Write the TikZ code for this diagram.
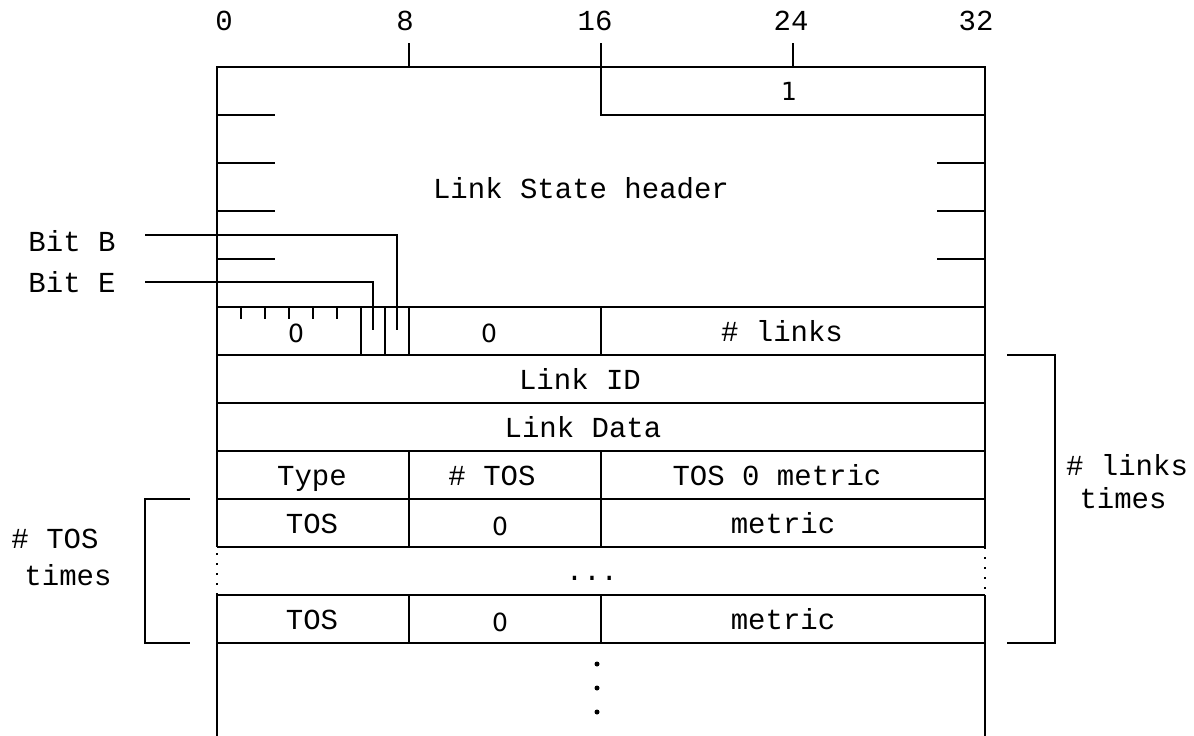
\documentclass[tikz,border=0pt]{standalone}
\usepackage{fontspec}
\setmonofont{Liberation Mono}
\newfontfamily\digitfont{DejaVu Sans}
\begin{document}
\begin{tikzpicture}[x=1pt,y=-1pt,
  ln/.style={line width=1.5pt},
  dl/.style={line width=1.5pt, dash pattern=on 2pt off 8pt},
  lbl/.style={font=\ttfamily\fontsize{29}{34}\selectfont, inner sep=0pt, text height=16pt, text depth=0pt, anchor=center},
  dig/.style={font=\digitfont\fontsize{25}{30}\selectfont, inner sep=0pt, text height=18pt, text depth=0pt, anchor=center},
  dot/.style={circle, fill=black, inner sep=0pt, minimum size=5pt}]
\useasboundingbox (0,0) rectangle (1194,736);
% scale labels
\node[lbl] (s0) at (224,22) {0};
\node[lbl] (s8) at (405,22) {8};
\node[lbl] (s16) at (595,22) {16};
\node[lbl] (s24) at (791,22) {24};
\node[lbl] (s32) at (976,22) {32};
\draw[ln] (409,43) -- (409,67);
\draw[ln] (601,43) -- (601,115) -- (985,115);
\draw[ln] (793,43) -- (793,67);
% outer frame
\draw[ln] (217,736) -- (217,595);
\draw[dl] (217,595) -- (217,547);
\draw[ln] (217,547) -- (217,67) -- (985,67) -- (985,547);
\draw[dl] (985,547) -- (985,595);
\draw[ln] (985,595) -- (985,736);
% header ticks
\foreach \y in {115,163,211,259} \draw[ln] (217,\y) -- (275,\y);
\foreach \y in {163,211,259} \draw[ln] (937,\y) -- (985,\y);
% horizontal rows
\foreach \y in {307,355,403,451,499,547,595,643} \draw[ln] (217,\y) -- (985,\y);
% vertical separators
\foreach \x in {361,385,409,601} \draw[ln] (\x,307) -- (\x,355);
\foreach \x in {409,601} {\draw[ln] (\x,451) -- (\x,547); \draw[ln] (\x,595) -- (\x,643);}
\foreach \x in {241,265,289,313,337} \draw[ln] (\x,307) -- (\x,319);
% texts
\node[dig] (one) at (789,91) {1};
\node[lbl] (lsh) at (581,190) {Link State header};
\node[lbl] (bitb) at (72,243) {Bit B};
\node[lbl] (bite) at (72,284) {Bit E};
\coordinate (bbs) at (145,235);
\coordinate (bbe) at (397,330);
\coordinate (bes) at (145,282);
\coordinate (bee) at (373,330);
\draw[ln] (bbs) -- (bbe |- bbs) -- (bbe);
\draw[ln] (bes) -- (bee |- bes) -- (bee);
\node[dig] (z1) at (296,333) {0};
\node[dig] (z2) at (489,333) {0};
\node[lbl] (nl) at (782,333) {\# links};
\node[lbl] (lid) at (580,381) {Link ID};
\node[lbl] (ldata) at (583,429) {Link Data};
\node[lbl] (type) at (312,477) {Type};
\node[lbl] (ntos) at (492,477) {\# TOS};
\node[lbl] (tos0) at (777,477) {TOS 0 metric};
\node[lbl] (tosa) at (312,525) {TOS};
\node[dig] (za) at (500,526) {0};
\node[lbl] (meta) at (783,525) {metric};
\node[lbl,text height=4pt] (ell) at (592,578) {...};
\node[lbl] (tosb) at (312,621) {TOS};
\node[dig] (zb) at (500,622) {0};
\node[lbl] (metb) at (783,621) {metric};
\node[dot] (d1) at (597,664) {};
\node[dot] (d2) at (597,688) {};
\node[dot] (d3) at (597,712) {};
% brackets
\coordinate (rb1) at (1007,355);
\coordinate (rb2) at (1007,643);
\draw[ln] (rb1) -- ++(48,0) |- (rb2);
\node[lbl] (rl1) at (1127,467) {\# links};
\node[lbl] (rl2) at (1123,500) {times};
\coordinate (lb1) at (190,499);
\coordinate (lb2) at (190,643);
\draw[ln] (lb1) -- ++(-45,0) |- (lb2);
\node[lbl] (ll1) at (55,540) {\# TOS};
\node[lbl] (ll2) at (68,577) {times};
\end{tikzpicture}
\end{document}
